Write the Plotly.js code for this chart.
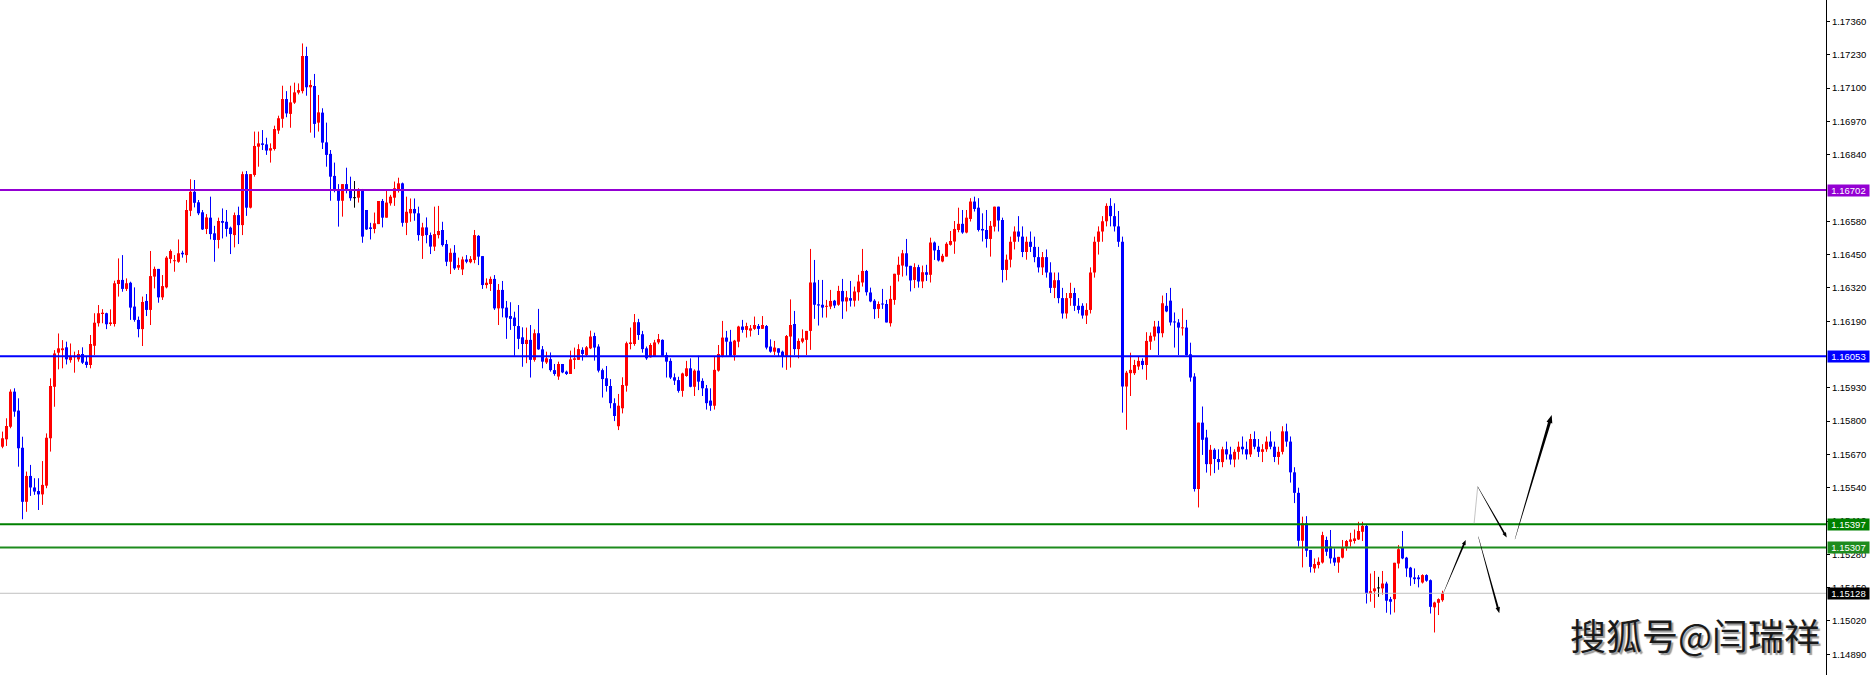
<!DOCTYPE html>
<html><head><meta charset="utf-8">
<script src="https://cdn.plot.ly/plotly-3.0.1.min.js"></script>
<style>html,body{margin:0;padding:0;background:#fff;overflow:hidden}#chart{width:1872px;height:675px}</style>
</head><body><div id="chart"></div>
<script>
// ---- data ----
const open = [
1.15700,1.15729,1.15778,1.15915,1.15841,1.15696,1.15485,1.15586,1.15541,1.15527,
1.15514,1.15548,1.15733,1.15934,1.16067,1.16077,1.16088,1.16038,1.16049,1.16041,
1.16062,1.16032,1.16019,1.16094,1.16182,1.16218,1.16221,1.16179,1.16179,1.16335,
1.16351,1.16316,1.16340,1.16247,1.16195,1.16159,1.16269,1.16234,1.16364,1.16394,
1.16283,1.16322,1.16433,1.16424,1.16422,1.16457,1.16448,1.16621,1.16695,1.16654,
1.16615,1.16550,1.16594,1.16533,1.16507,1.16581,1.16578,1.16555,1.16526,1.16604,
1.16565,1.16764,1.16633,1.16761,1.16871,1.16884,1.16880,1.16856,1.16862,1.16934,
1.16980,1.17057,1.16999,1.17043,1.17082,1.17088,1.17225,1.17103,1.17108,1.16965,
1.17004,1.16888,1.16843,1.16757,1.16702,1.16660,1.16725,1.16705,1.16670,1.16672,
1.16702,1.16624,1.16556,1.16550,1.16569,1.16659,1.16594,1.16650,1.16672,1.16705,
1.16728,1.16574,1.16611,1.16628,1.16611,1.16523,1.16556,1.16526,1.16481,1.16526,
1.16546,1.16491,1.16422,1.16457,1.16399,1.16392,1.16431,1.16420,1.16429,1.16523,
1.16444,1.16331,1.16335,1.16355,1.16240,1.16312,1.16243,1.16210,1.16204,1.16171,
1.16127,1.16101,1.16117,1.16039,1.16143,1.16080,1.16029,1.16042,1.15999,1.15974,
1.16023,1.15993,1.15984,1.16039,1.16039,1.16078,1.16058,1.16084,1.16132,1.16091,
1.15999,1.15967,1.15937,1.15870,1.15780,1.15850,1.15938,1.16101,1.16101,1.16186,
1.16139,1.16084,1.16049,1.16052,1.16107,1.16117,1.16058,1.16035,1.15971,1.15960,
1.15918,1.15976,1.16006,1.15934,1.15997,1.15957,1.15928,1.15880,1.15860,1.15997,
1.16055,1.16126,1.16110,1.16058,1.16110,1.16169,1.16156,1.16153,1.16160,1.16171,
1.16160,1.16171,1.16091,1.16071,1.16084,1.16071,1.16055,1.16130,1.16179,1.16081,
1.16110,1.16117,1.16152,1.16341,1.16256,1.16254,1.16246,1.16247,1.16270,1.16254,
1.16308,1.16267,1.16280,1.16270,1.16303,1.16341,1.16386,1.16302,1.16270,1.16238,
1.16257,1.16257,1.16182,1.16273,1.16371,1.16407,1.16455,1.16406,1.16351,1.16401,
1.16345,1.16381,1.16371,1.16497,1.16468,1.16423,1.16442,1.16488,1.16501,1.16546,
1.16570,1.16536,1.16589,1.16657,1.16633,1.16550,1.16546,1.16511,1.16559,1.16637,
1.16585,1.16390,1.16430,1.16500,1.16540,1.16520,1.16460,1.16500,1.16480,1.16440,
1.16400,1.16440,1.16380,1.16320,1.16350,1.16280,1.16220,1.16280,1.16300,1.16250,
1.16250,1.16212,1.16234,1.16380,1.16500,1.16540,1.16580,1.16640,1.16600,1.16560,
1.16500,1.15935,1.15987,1.15987,1.16013,1.16035,1.16019,1.16110,1.16130,1.16169,
1.16143,1.16250,1.16270,1.16188,1.16185,1.16162,1.16165,1.16061,1.15974,1.15535,
1.15794,1.15736,1.15632,1.15688,1.15652,1.15640,1.15690,1.15670,1.15650,1.15680,
1.15700,1.15690,1.15670,1.15730,1.15700,1.15680,1.15690,1.15720,1.15700,1.15660,
1.15680,1.15760,1.15720,1.15600,1.15520,1.15333,1.15401,1.15297,1.15225,1.15238,
1.15248,1.15336,1.15310,1.15267,1.15248,1.15267,1.15310,1.15329,1.15332,1.15338,
1.15368,1.15391,1.15127,1.15136,1.15147,1.15147,1.15166,1.15105,1.15105,1.15244,
1.15306,1.15267,1.15228,1.15190,1.15190,1.15170,1.15199,1.15179,1.15073,1.15091,
1.15101];
const high = [
1.15759,1.15811,1.15924,1.15928,1.15889,1.15739,1.15603,1.15629,1.15577,1.15577,
1.15644,1.15752,1.15967,1.16077,1.16142,1.16116,1.16110,1.16103,1.16071,1.16077,
1.16088,1.16051,1.16136,1.16221,1.16253,1.16237,1.16223,1.16236,1.16348,1.16435,
1.16448,1.16357,1.16344,1.16322,1.16208,1.16286,1.16296,1.16464,1.16403,1.16394,
1.16370,1.16444,1.16470,1.16448,1.16509,1.16465,1.16663,1.16744,1.16741,1.16663,
1.16624,1.16608,1.16676,1.16562,1.16594,1.16630,1.16624,1.16559,1.16614,1.16637,
1.16774,1.16776,1.16764,1.16930,1.16930,1.16936,1.16906,1.16884,1.16953,1.16992,
1.17109,1.17088,1.17109,1.17121,1.17118,1.17274,1.17261,1.17131,1.17155,1.17073,
1.17021,1.16965,1.16858,1.16809,1.16725,1.16725,1.16789,1.16754,1.16737,1.16709,
1.16706,1.16624,1.16574,1.16614,1.16659,1.16667,1.16698,1.16683,1.16735,1.16750,
1.16731,1.16676,1.16669,1.16669,1.16637,1.16574,1.16595,1.16536,1.16637,1.16640,
1.16578,1.16507,1.16474,1.16487,1.16438,1.16442,1.16448,1.16444,1.16546,1.16526,
1.16444,1.16357,1.16364,1.16370,1.16335,1.16347,1.16269,1.16264,1.16227,1.16253,
1.16166,1.16165,1.16175,1.16158,1.16238,1.16093,1.16071,1.16068,1.16023,1.16032,
1.16023,1.15997,1.16075,1.16087,1.16100,1.16088,1.16093,1.16153,1.16145,1.16100,
1.16005,1.16015,1.15964,1.15889,1.15906,1.15971,1.16110,1.16165,1.16218,1.16199,
1.16152,1.16091,1.16104,1.16117,1.16140,1.16119,1.16068,1.16045,1.15986,1.15973,
1.15989,1.16035,1.16045,1.16002,1.16055,1.15967,1.15941,1.15928,1.16052,1.16097,
1.16191,1.16152,1.16156,1.16117,1.16172,1.16195,1.16184,1.16175,1.16208,1.16179,
1.16210,1.16175,1.16119,1.16113,1.16084,1.16075,1.16136,1.16275,1.16230,1.16123,
1.16158,1.16152,1.16472,1.16429,1.16351,1.16351,1.16273,1.16312,1.16273,1.16328,
1.16355,1.16308,1.16347,1.16325,1.16371,1.16472,1.16390,1.16321,1.16276,1.16267,
1.16316,1.16273,1.16328,1.16375,1.16442,1.16468,1.16511,1.16406,1.16416,1.16410,
1.16407,1.16410,1.16516,1.16501,1.16484,1.16453,1.16498,1.16542,1.16581,1.16633,
1.16624,1.16624,1.16670,1.16676,1.16670,1.16611,1.16624,1.16581,1.16637,1.16637,
1.16594,1.16450,1.16520,1.16560,1.16600,1.16560,1.16520,1.16540,1.16520,1.16480,
1.16460,1.16470,1.16420,1.16380,1.16380,1.16320,1.16300,1.16340,1.16320,1.16280,
1.16260,1.16260,1.16400,1.16520,1.16560,1.16600,1.16650,1.16670,1.16650,1.16620,
1.16520,1.15996,1.16067,1.16039,1.16052,1.16045,1.16147,1.16146,1.16191,1.16191,
1.16290,1.16300,1.16320,1.16224,1.16198,1.16240,1.16195,1.16106,1.15987,1.15794,
1.15857,1.15766,1.15707,1.15694,1.15690,1.15700,1.15720,1.15700,1.15690,1.15720,
1.15740,1.15720,1.15750,1.15760,1.15730,1.15710,1.15740,1.15760,1.15720,1.15700,
1.15780,1.15790,1.15740,1.15620,1.15540,1.15427,1.15429,1.15297,1.15264,1.15268,
1.15368,1.15349,1.15375,1.15303,1.15270,1.15336,1.15336,1.15364,1.15377,1.15407,
1.15407,1.15397,1.15205,1.15215,1.15192,1.15215,1.15173,1.15114,1.15247,1.15316,
1.15371,1.15270,1.15231,1.15225,1.15199,1.15202,1.15202,1.15182,1.15095,1.15108,
1.15138];
const low = [
1.15694,1.15703,1.15772,1.15817,1.15622,1.15417,1.15446,1.15508,1.15512,1.15453,
1.15473,1.15538,1.15681,1.15856,1.16002,1.16006,1.16021,1.16028,1.15989,1.16032,
1.16023,1.16008,1.16006,1.16058,1.16169,1.16182,1.16159,1.16172,1.16169,1.16286,
1.16305,1.16308,1.16195,1.16188,1.16127,1.16093,1.16210,1.16175,1.16318,1.16262,
1.16273,1.16318,1.16416,1.16383,1.16418,1.16438,1.16418,1.16600,1.16634,1.16604,
1.16546,1.16530,1.16509,1.16422,1.16474,1.16513,1.16520,1.16452,1.16478,1.16491,
1.16526,1.16601,1.16630,1.16754,1.16793,1.16858,1.16839,1.16809,1.16856,1.16921,
1.16945,1.16986,1.16945,1.17038,1.17075,1.17079,1.17070,1.16926,1.16906,1.16930,
1.16862,1.16793,1.16660,1.16693,1.16559,1.16598,1.16689,1.16660,1.16633,1.16653,
1.16496,1.16546,1.16509,1.16533,1.16569,1.16556,1.16594,1.16641,1.16640,1.16692,
1.16559,1.16526,1.16578,1.16582,1.16504,1.16433,1.16494,1.16452,1.16464,1.16513,
1.16481,1.16405,1.16374,1.16390,1.16390,1.16370,1.16416,1.16416,1.16416,1.16409,
1.16316,1.16318,1.16308,1.16234,1.16175,1.16205,1.16121,1.16156,1.16055,1.16081,
1.16012,1.16026,1.15970,1.16032,1.16078,1.16006,1.16023,1.15993,1.15977,1.15961,
1.15987,1.15980,1.15984,1.16003,1.16039,1.16036,1.16052,1.16081,1.16036,1.15990,
1.15892,1.15915,1.15850,1.15800,1.15765,1.15830,1.15915,1.16080,1.16094,1.16117,
1.16067,1.16039,1.16048,1.16052,1.16100,1.16054,1.15970,1.15964,1.15941,1.15911,
1.15895,1.15973,1.15932,1.15898,1.15921,1.15898,1.15845,1.15840,1.15845,1.15993,
1.16049,1.16055,1.16054,1.16036,1.16088,1.16145,1.16126,1.16130,1.16156,1.16136,
1.16160,1.16080,1.16067,1.16058,1.16052,1.16009,1.16000,1.16009,1.16058,1.16045,
1.16104,1.16058,1.16078,1.16199,1.16173,1.16204,1.16204,1.16237,1.16241,1.16250,
1.16199,1.16228,1.16247,1.16247,1.16270,1.16325,1.16290,1.16264,1.16199,1.16202,
1.16238,1.16185,1.16169,1.16254,1.16345,1.16364,1.16368,1.16306,1.16319,1.16321,
1.16319,1.16347,1.16341,1.16429,1.16423,1.16420,1.16442,1.16485,1.16453,1.16537,
1.16531,1.16533,1.16579,1.16618,1.16540,1.16501,1.16477,1.16442,1.16540,1.16540,
1.16341,1.16350,1.16400,1.16470,1.16500,1.16440,1.16430,1.16460,1.16420,1.16380,
1.16370,1.16360,1.16300,1.16280,1.16260,1.16200,1.16200,1.16250,1.16230,1.16220,
1.16200,1.16179,1.16220,1.16360,1.16450,1.16500,1.16560,1.16560,1.16540,1.16480,
1.15833,1.15766,1.15898,1.15980,1.16000,1.16002,1.15961,1.16078,1.16114,1.16058,
1.16127,1.16225,1.16173,1.16087,1.16058,1.16134,1.16056,1.15954,1.15525,1.15463,
1.15668,1.15599,1.15587,1.15597,1.15610,1.15620,1.15650,1.15630,1.15620,1.15650,
1.15670,1.15650,1.15660,1.15690,1.15660,1.15640,1.15680,1.15690,1.15640,1.15630,
1.15670,1.15700,1.15560,1.15480,1.15310,1.15229,1.15270,1.15209,1.15208,1.15225,
1.15244,1.15274,1.15244,1.15235,1.15208,1.15264,1.15294,1.15310,1.15322,1.15336,
1.15332,1.15088,1.15095,1.15071,1.15114,1.15123,1.15052,1.15045,1.15053,1.15225,
1.15261,1.15192,1.15157,1.15164,1.15151,1.15166,1.15173,1.15049,1.14975,1.15043,
1.15095];
const close = [
1.15733,1.15781,1.15915,1.15837,1.15694,1.15485,1.15586,1.15541,1.15525,1.15514,
1.15551,1.15735,1.15937,1.16064,1.16084,1.16084,1.16041,1.16054,1.16054,1.16062,
1.16028,1.16019,1.16101,1.16184,1.16221,1.16223,1.16178,1.16185,1.16338,1.16351,
1.16316,1.16338,1.16243,1.16195,1.16159,1.16265,1.16234,1.16366,1.16394,1.16283,
1.16327,1.16438,1.16464,1.16426,1.16455,1.16451,1.16624,1.16695,1.16652,1.16611,
1.16548,1.16595,1.16530,1.16507,1.16581,1.16574,1.16550,1.16530,1.16604,1.16565,
1.16764,1.16633,1.16764,1.16874,1.16884,1.16878,1.16856,1.16865,1.16940,1.16982,
1.17057,1.17001,1.17044,1.17083,1.17092,1.17225,1.17103,1.17112,1.16960,1.17005,
1.16887,1.16839,1.16754,1.16699,1.16660,1.16725,1.16705,1.16670,1.16670,1.16702,
1.16520,1.16548,1.16550,1.16572,1.16659,1.16594,1.16653,1.16676,1.16709,1.16728,
1.16574,1.16617,1.16628,1.16611,1.16526,1.16556,1.16526,1.16481,1.16530,1.16542,
1.16487,1.16422,1.16457,1.16396,1.16409,1.16431,1.16422,1.16433,1.16526,1.16442,
1.16331,1.16340,1.16355,1.16240,1.16312,1.16240,1.16204,1.16199,1.16171,1.16121,
1.16101,1.16117,1.16039,1.16143,1.16080,1.16032,1.16045,1.15999,1.15984,1.16023,
1.15990,1.15984,1.16041,1.16045,1.16081,1.16062,1.16088,1.16130,1.16087,1.15997,
1.15964,1.15937,1.15870,1.15820,1.15860,1.15941,1.16104,1.16107,1.16186,1.16136,
1.16081,1.16045,1.16097,1.16107,1.16120,1.16055,1.16032,1.15970,1.15958,1.15918,
1.15986,1.16006,1.15934,1.15997,1.15954,1.15928,1.15870,1.15860,1.16000,1.16062,
1.16126,1.16110,1.16055,1.16114,1.16169,1.16156,1.16171,1.16162,1.16175,1.16160,
1.16175,1.16087,1.16071,1.16087,1.16067,1.16052,1.16132,1.16175,1.16081,1.16113,
1.16123,1.16152,1.16341,1.16254,1.16251,1.16243,1.16250,1.16269,1.16251,1.16308,
1.16267,1.16283,1.16270,1.16306,1.16345,1.16386,1.16303,1.16267,1.16237,1.16257,
1.16255,1.16185,1.16277,1.16375,1.16410,1.16455,1.16403,1.16349,1.16401,1.16345,
1.16381,1.16371,1.16497,1.16466,1.16427,1.16445,1.16492,1.16503,1.16550,1.16570,
1.16536,1.16594,1.16657,1.16628,1.16546,1.16544,1.16511,1.16562,1.16637,1.16583,
1.16390,1.16430,1.16500,1.16540,1.16520,1.16460,1.16500,1.16480,1.16440,1.16400,
1.16440,1.16380,1.16320,1.16350,1.16280,1.16220,1.16280,1.16300,1.16250,1.16234,
1.16212,1.16234,1.16380,1.16500,1.16540,1.16580,1.16640,1.16600,1.16560,1.16500,
1.15935,1.15989,1.16000,1.16019,1.16035,1.16019,1.16113,1.16133,1.16169,1.16143,
1.16260,1.16228,1.16185,1.16185,1.16165,1.16165,1.16058,1.15970,1.15535,1.15794,
1.15727,1.15632,1.15688,1.15652,1.15640,1.15690,1.15670,1.15650,1.15680,1.15700,
1.15690,1.15670,1.15730,1.15700,1.15680,1.15690,1.15720,1.15700,1.15660,1.15680,
1.15760,1.15720,1.15600,1.15520,1.15333,1.15401,1.15294,1.15231,1.15242,1.15251,
1.15355,1.15290,1.15264,1.15248,1.15270,1.15306,1.15332,1.15338,1.15342,1.15371,
1.15391,1.15127,1.15136,1.15147,1.15147,1.15166,1.15099,1.15095,1.15247,1.15300,
1.15264,1.15225,1.15190,1.15183,1.15183,1.15199,1.15177,1.15075,1.15092,1.15105,
1.15128];

const levelPrices = [1.16702, 1.16053, 1.15397, 1.15307];
const bidPrice = 1.15128;
// price-scale labels visible on the right axis (two are fully covered by level tags in the reference)
const tickValues = [1.17360, 1.17230, 1.17100, 1.16970, 1.16840, 1.16580, 1.16450, 1.16320, 1.16190,
  1.15930, 1.15800, 1.15670, 1.15540, 1.15410, 1.15280, 1.15150, 1.15020, 1.14890];
const watermark = '搜狐号@闫瑞祥';

// projected path drawn on the chart: [x0, y0, x1, y1] in bar index / price
const arrowTails = [
  [360.2, 1.15128, 365.8, 1.15336],
  [368.8, 1.15544, 376.05, 1.15346],
  [368.95, 1.15349, 374.2, 1.15050],
  [378.1, 1.15339, 387.3, 1.15824]
];
const thinStroke = [367.9, 1.15401, 368.8, 1.15544];

// ---- styling / layout ----
const levelColors = ['#9400D3', '#0000FF', '#008000', '#1E8C1E'];
const UP = '#FF0000', DOWN = '#0000FF', FLAT = '#000000';
const W = 1872, H = 675, MR = 46;
const plotW = W - MR, plotH = H;
const xr = [-0.625, (plotW - 2.5) / 4];
const yr = [1.148090, 1.174436];

const n = open.length;
const groups = {up: [], down: [], flat: []};
for (let i = 0; i < n; i++) {
  const g = close[i] > open[i] ? 'up' : (close[i] < open[i] ? 'down' : 'flat');
  groups[g].push(i);
}
const colorOf = {up: UP, down: DOWN, flat: FLAT};
const traces = [];
for (const g of ['up', 'down', 'flat']) {
  const wx = [], wy = [];
  groups[g].forEach(i => { wx.push(i, i, null); wy.push(high[i], low[i], null); });
  traces.push({type: 'scatter', mode: 'lines', x: wx, y: wy, line: {color: colorOf[g], width: 1},
    hoverinfo: 'skip', showlegend: false, connectgaps: false});
}
const minBody = (yr[1] - yr[0]) / plotH * 1.0;
for (const g of ['up', 'down', 'flat']) {
  const ids = groups[g];
  traces.push({type: 'bar', x: ids, base: ids.map(i => Math.min(open[i], close[i])),
    y: ids.map(i => Math.max(Math.abs(close[i] - open[i]), minBody)),
    width: 0.75, marker: {color: colorOf[g], line: {width: 0}}, hoverinfo: 'skip', showlegend: false});
}

const pxX = plotW / (xr[1] - xr[0]);
const pxY = plotH / (yr[1] - yr[0]);
function arrowPath(a, w0, w1, hw, hl) {
  const X0 = a[0] * pxX, Y0 = -a[1] * pxY, X1 = a[2] * pxX, Y1 = -a[3] * pxY;
  const dx = X1 - X0, dy = Y1 - Y0, L = Math.hypot(dx, dy), ux = dx / L, uy = dy / L, nx = -uy, ny = ux;
  const bx = X1 - ux * hl, by = Y1 - uy * hl;
  const pts = [[X0 + nx * w0 / 2, Y0 + ny * w0 / 2], [bx + nx * w1 / 2, by + ny * w1 / 2], [bx + nx * hw / 2, by + ny * hw / 2],
    [X1, Y1], [bx - nx * hw / 2, by - ny * hw / 2], [bx - nx * w1 / 2, by - ny * w1 / 2], [X0 - nx * w0 / 2, Y0 - ny * w0 / 2]];
  return 'M' + pts.map(p => (p[0] / pxX).toFixed(4) + ',' + (-p[1] / pxY).toFixed(7)).join('L') + 'Z';
}

const shapes = [];
shapes.push({type: 'line', xref: 'paper', x0: 0, x1: 1, yref: 'y', y0: bidPrice, y1: bidPrice, line: {color: '#C0C0C0', width: 1}});
levelPrices.forEach((p, k) => shapes.push({type: 'line', xref: 'paper', x0: 0, x1: 1, yref: 'y', y0: p, y1: p,
  line: {color: levelColors[k], width: 2}}));
shapes.push({type: 'line', xref: 'x', yref: 'y', x0: thinStroke[0], y0: thinStroke[1], x1: thinStroke[2], y1: thinStroke[3],
  line: {color: '#aaaaaa', width: 0.7}});
const arrowSizes = [[0.3, 1.8, 4, 5], [0.3, 1.8, 4, 5], [0.3, 2.0, 4.5, 6], [0.3, 3.0, 6, 8]];
arrowTails.forEach((a, k) => {
  const s = arrowSizes[k];
  shapes.push({type: 'path', xref: 'x', yref: 'y', path: arrowPath(a, s[0], s[1], s[2], s[3]),
    fillcolor: '#000', line: {width: 0}});
});

const labelFont = {family: 'Liberation Sans, Arial, sans-serif', size: 9.5, color: '#fff'};
const annotations = [];
const tagColors = levelColors.concat(['#000000']);
levelPrices.concat([bidPrice]).forEach((p, k) => annotations.push({xref: 'paper', x: 1, xanchor: 'left', xshift: 1,
  yref: 'y', y: p, yanchor: 'middle', text: p.toFixed(5), showarrow: false, bgcolor: tagColors[k], font: labelFont,
  borderpad: 0, width: 41, height: 11, align: 'center', valign: 'middle'}));
annotations.push({xref: 'paper', yref: 'paper', x: 1695 / plotW, y: 1 - 634 / plotH, xanchor: 'center', yanchor: 'middle',
  text: watermark, showarrow: false,
  font: {family: 'Noto Sans CJK SC, sans-serif', size: 36, color: '#1a1a1a', shadow: '2px 2px 1px #9a9a9a'}});

const layout = {
  width: W, height: H, margin: {l: 0, r: MR, t: 0, b: 0, pad: 0},
  paper_bgcolor: '#fff', plot_bgcolor: '#fff', showlegend: false, barmode: 'overlay',
  xaxis: {range: xr, visible: false, fixedrange: true},
  yaxis: {range: yr, side: 'right', tickmode: 'array', tickvals: tickValues, ticktext: tickValues.map(v => v.toFixed(5)),
    ticks: 'outside', ticklen: 3, tickcolor: '#000', showline: true, linecolor: '#000', linewidth: 1,
    showgrid: false, zeroline: false, fixedrange: true,
    tickfont: {family: 'Liberation Sans, Arial, sans-serif', size: 9.5, color: '#000'}},
  shapes: shapes, annotations: annotations
};
Plotly.newPlot('chart', traces, layout, {displayModeBar: false, staticPlot: true});
</script></body></html>
